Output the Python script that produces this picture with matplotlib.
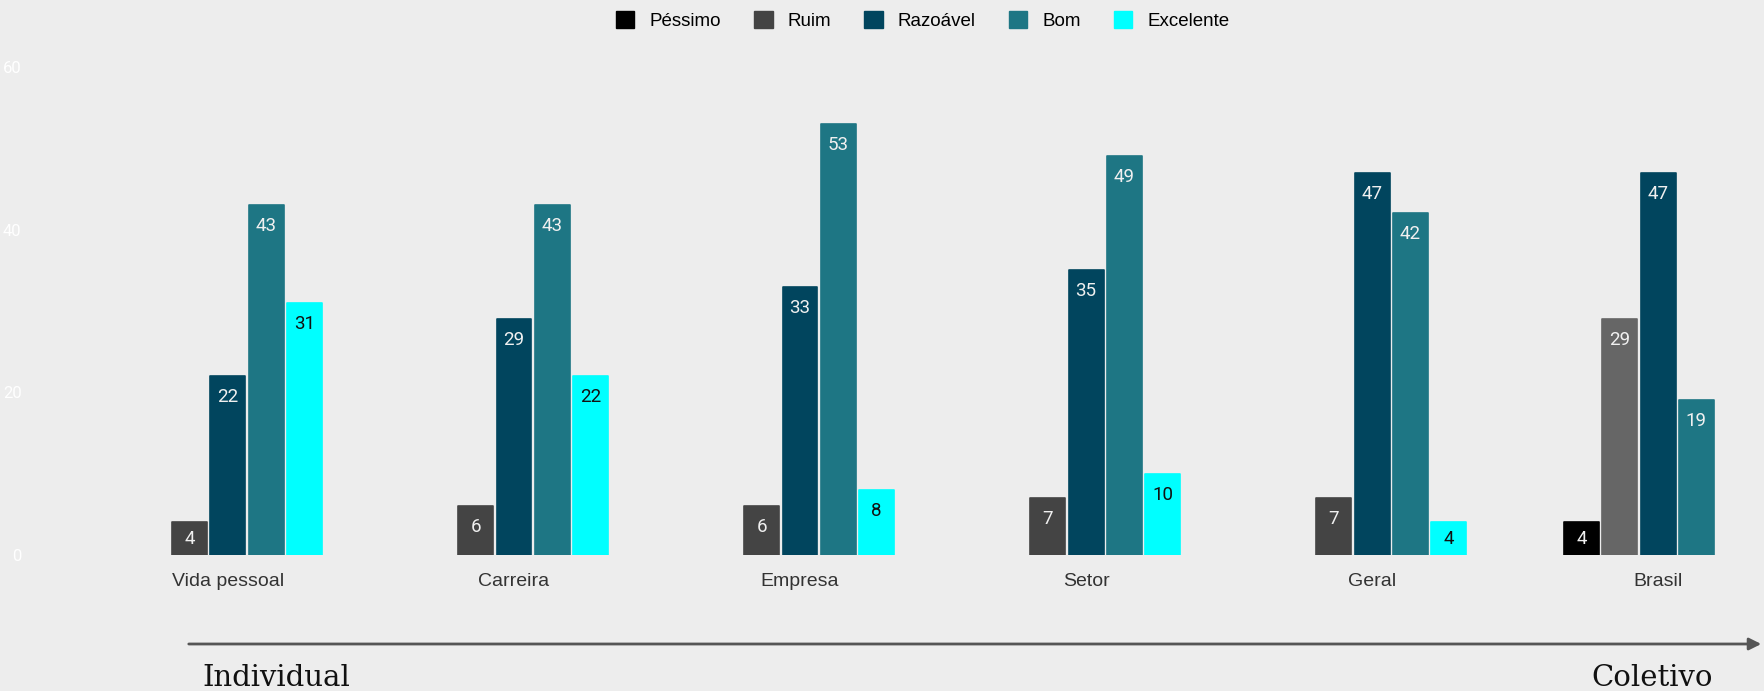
import matplotlib.pyplot as plt
import numpy as np
from matplotlib.patches import Patch, FancyArrowPatch

# -------------- data --------------------------
categories = ["Vida pessoal", "Carreira", "Empresa", "Setor", "Geral", "Brasil"]
levels = ["Péssimo", "Ruim", "Razoável", "Bom", "Excelente"]
pessimo = [0, 0, 0, 0, 0, 4]
ruim = [4, 6, 6, 7, 7, 29]
razoavel = [22, 29, 33, 35, 47, 47]
bom = [43, 43, 53, 49, 42, 19]
excelente = [31, 22, 8, 10, 4, 0]
yticks = [0, 20, 40, 60]
# ------------------------------------------------------------

colors = ["#000000", "#444444", "#01455e", "#1e7684", "#00ffff"]
ruim_brasil_color = "#666666"
bg = "#ededed"

series = [pessimo, ruim, razoavel, bom, excelente]

fig = plt.figure(figsize=(17.64, 6.91), dpi=100, facecolor=bg)
ax = fig.add_axes([30 / 1764, 1 - 555 / 691, 1 - 30 / 1764, (555 - 67) / 691])
ax.set_facecolor(bg)

x = np.arange(len(categories))
pitch = 0.1337
width = 0.122
px_per_unit = 488 / 60.0  # pixel height of one data unit

for j, (name, vals) in enumerate(zip(levels, series)):
    offs = (j - 2) * pitch
    for i, v in enumerate(vals):
        if v == 0:
            continue
        c = colors[j]
        if name == "Ruim" and categories[i] == "Brasil":
            c = ruim_brasil_color
        ax.bar(x[i] + offs, v, width, color=c, edgecolor=c, linewidth=1.2,
               joinstyle="round")
        # label sits near the top, or centred for short bars
        h_px = v * px_per_unit
        drop = min(21, h_px / 2) / px_per_unit
        tc = "#111111" if name == "Excelente" else "#f0f0f0"
        ax.text(x[i] + offs, v - drop, str(v), ha="center", va="center",
                color=tc, fontsize=13.5, family="Roboto")

ax.set_xlim(-0.692, 5.37)
ax.set_ylim(0, 60)
ax.set_yticks(yticks)
ax.set_yticklabels([str(t) for t in yticks], color="white", fontsize=12,
                   family="Roboto")
ax.tick_params(axis="y", length=0, pad=6)
ax.set_xticks(x)
ax.set_xticklabels(categories, fontsize=14, color="#333333",
                   family="Liberation Sans")
ax.tick_params(axis="x", length=0, pad=13)
for s in ax.spines.values():
    s.set_visible(False)

handles = [Patch(facecolor=c, edgecolor=c, label=l) for c, l in zip(colors, levels)]
fig.legend(handles=handles, loc="upper center", bbox_to_anchor=(0.523, 1.008),
           ncol=5, frameon=False, handlelength=1.0, handleheight=1.0,
           handletextpad=0.8, columnspacing=1.75,
           prop={"family": "Liberation Sans", "size": 13.5})

# Individual -> Coletivo arrow along the bottom
y_arrow = 1 - 644 / 691
fig.patches.append(FancyArrowPatch(
    (186 / 1764, y_arrow), (1.0, y_arrow), transform=fig.transFigure,
    arrowstyle="-|>", mutation_scale=18, color="#555555", lw=2))
fig.text(202 / 1764, 1 - 686 / 691, "Individual", family="DejaVu Serif",
         fontsize=21, color="#111111", va="baseline", ha="left")
fig.text(1713 / 1764, 1 - 686 / 691, "Coletivo", family="DejaVu Serif",
         fontsize=21, color="#111111", va="baseline", ha="right")

fig.savefig("out.png", dpi=100, facecolor=bg)
